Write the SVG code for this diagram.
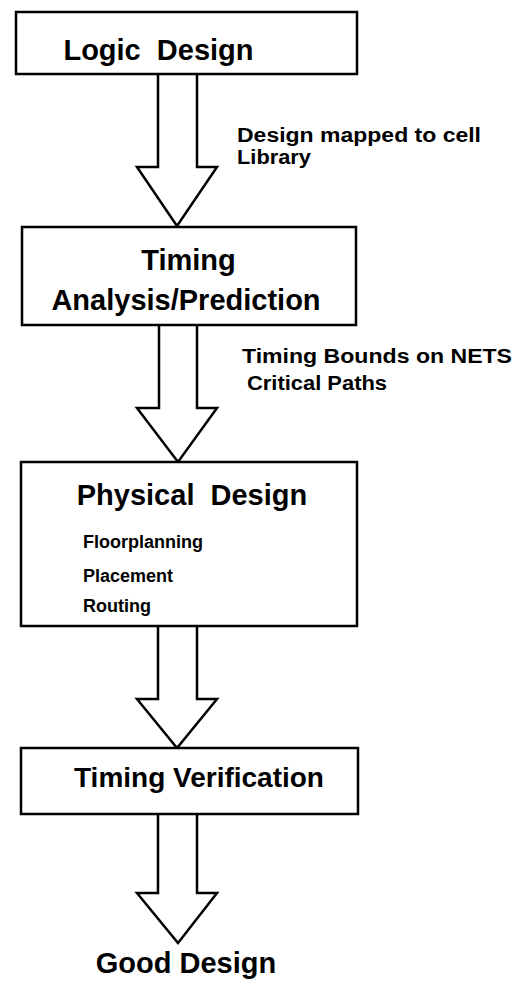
<svg xmlns="http://www.w3.org/2000/svg" width="517" height="986" viewBox="0 0 517 986">
  <style>
    .box { fill: #ffffff; stroke: #000000; stroke-width: 2.5; }
    .arrow { fill: #ffffff; stroke: #000000; stroke-width: 2.5; stroke-linejoin: miter; }
    .title { font-family: "Liberation Sans", Arial, Helvetica, sans-serif; font-weight: bold; font-size: 29px; fill: #000000; text-anchor: middle; }
    .item { font-family: "Liberation Sans", Arial, Helvetica, sans-serif; font-weight: bold; font-size: 18px; fill: #000000; }
    .label { font-family: "Liberation Sans", Arial, Helvetica, sans-serif; font-weight: bold; font-size: 20px; fill: #000000; }
  </style>
  <rect width="517" height="986" fill="#ffffff"/>

  <!-- flow arrows between stages -->
  <g id="connectors">
    <path class="arrow" d="M158,74 V167 H137 L177,226 L217,167 H197 V74"/>
    <path class="arrow" d="M159,325 V408 H137 L178,462 L217,408 H197 V325"/>
    <path class="arrow" d="M158,626 V699 H137 L177,748 L217,699 H197 V626"/>
    <path class="arrow" d="M158,814 V893 H137 L178,943 L217,893 H197 V814"/>
  </g>

  <g id="logic-design">
    <rect class="box" x="16" y="12" width="341" height="62"/>
    <text class="title" x="158.5" y="60" xml:space="preserve">Logic  Design</text>
  </g>

  <g id="timing-analysis">
    <rect class="box" x="22" y="227" width="334" height="98"/>
    <text class="title" x="188.5" y="270">Timing</text>
    <text class="title" x="186" y="310">Analysis/Prediction</text>
  </g>

  <g id="physical-design">
    <rect class="box" x="21" y="462" width="336" height="164"/>
    <text class="title" x="192" y="505" xml:space="preserve">Physical  Design</text>
    <text class="item" x="83" y="548">Floorplanning</text>
    <text class="item" x="83" y="582">Placement</text>
    <text class="item" x="83" y="612">Routing</text>
  </g>

  <g id="timing-verification">
    <rect class="box" x="21" y="748" width="337" height="66"/>
    <text class="title" x="199" y="787" style="font-size:28px">Timing Verification</text>
  </g>

  <g id="good-design">
    <text class="title" x="186" y="973">Good Design</text>
  </g>

  <g id="labels">
    <text class="label" x="237" y="142" textLength="244" lengthAdjust="spacingAndGlyphs">Design mapped to cell</text>
    <text class="label" x="237" y="164" textLength="74" lengthAdjust="spacingAndGlyphs">Library</text>
    <text class="label" x="242" y="363" textLength="270" lengthAdjust="spacingAndGlyphs">Timing Bounds on NETS</text>
    <text class="label" x="247" y="390" textLength="140" lengthAdjust="spacingAndGlyphs">Critical Paths</text>
  </g>
</svg>
